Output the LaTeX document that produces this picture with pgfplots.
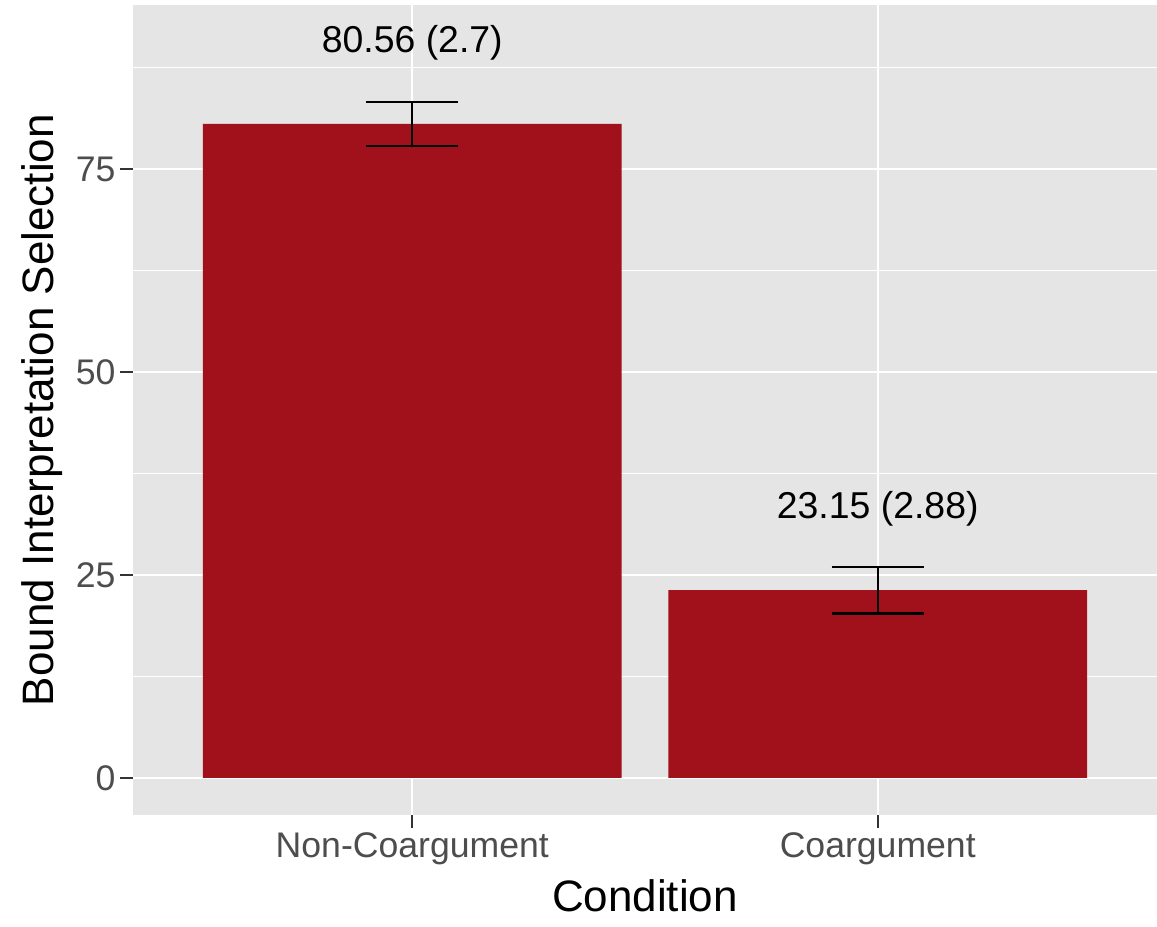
\documentclass[border=0pt]{standalone}
\usepackage{fontspec}
\setmainfont{Liberation Sans}
\usepackage{pgfplots}
\pgfplotsset{compat=1.18}
\definecolor{panelbg}{HTML}{E5E5E5}
\definecolor{barred}{HTML}{A0111B}
\definecolor{ticklab}{HTML}{4D4D4D}
\definecolor{tickcol}{HTML}{333333}
\begin{document}
\begin{tikzpicture}
\useasboundingbox (0,0) rectangle (289.25pt,231.5pt);
\begin{axis}[
  at={(33.25pt,27.75pt)}, anchor=south west,
  scale only axis, width=256pt, height=202.5pt,
  xmin=0.4, xmax=2.6, ymin=-4.56, ymax=95.2,
  axis background/.style={fill=panelbg},
  axis line style={draw=none},
  xtick={1,2}, xticklabels={Non-Coargument,Coargument},
  ytick={0,25,50,75},
  minor ytick={12.5,37.5,62.5,87.5},
  grid=both,
  major grid style={white, line width=0.55pt},
  minor grid style={white, line width=0.28pt},
  tick align=outside,
  major tick length=3.2pt, minor tick length=0pt,
  tick style={tickcol, line width=0.5pt},
  xtick pos=bottom, ytick pos=left,
  /pgf/number format/assume math mode=true,
  ticklabel style={font=\fontsize{8.9}{10.5}\selectfont, text=ticklab},
  xticklabel style={inner sep=1pt, yshift=0pt},
  yticklabel style={inner sep=1pt},
  xlabel={Condition}, ylabel={Bound Interpretation Selection},
  label style={font=\fontsize{11}{13}\selectfont, inner sep=1pt},
  xlabel style={yshift=-1.5pt},
  ylabel style={yshift=1pt},
]
\addplot[ybar, bar width=0.9, bar shift=0pt, fill=barred, draw=none,
  error bars/.cd, y dir=both, y explicit,
  error bar style={black, line width=0.55pt},
  error mark options={rotate=90, mark size=11.5pt, black, line width=0.55pt}]
  table[x=x, y=y, y error=e] {
  x y e
  1 80.56 2.7
  2 23.15 2.88
  };
\node[font=\fontsize{9.35}{11}\selectfont] at (axis cs:1,90.56) {80.56 (2.7)};
\node[font=\fontsize{9.35}{11}\selectfont] at (axis cs:2,33.15) {23.15 (2.88)};
\end{axis}
\end{tikzpicture}
\end{document}
